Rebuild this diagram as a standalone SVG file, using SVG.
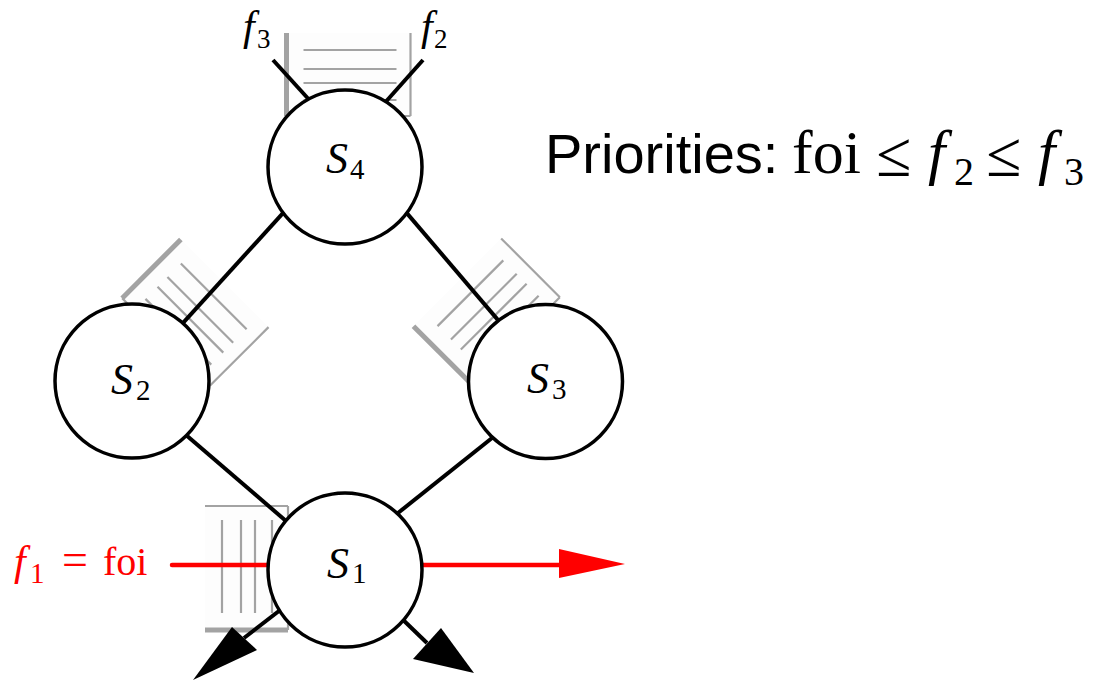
<svg xmlns="http://www.w3.org/2000/svg" width="1106" height="681" viewBox="0 0 1106 681">
<style>
.qt{stroke:#a3a3a3;stroke-width:2.2;fill:none}
.qk{stroke:#a3a3a3;stroke-width:5;fill:none}
.edge{stroke:#000;stroke-width:4;fill:none}
.node{fill:#fff;stroke:#000;stroke-width:3.5}
.m{font-family:"Liberation Serif",serif}
.it{font-style:italic}
</style>
<defs>
<g id="queue">
<rect x="-83" y="-62" width="83" height="124" fill="#fdfdfd"/>
<line class="qt" x1="-83" y1="-62" x2="0" y2="-62"/>
<line class="qt" x1="0" y1="-62" x2="0" y2="62"/>
<line class="qk" x1="-83" y1="62" x2="0" y2="62"/>
<line class="qt" x1="-66" y1="-48" x2="-66" y2="45"/>
<line class="qt" x1="-47" y1="-48" x2="-47" y2="45"/>
<line class="qt" x1="-33" y1="-48" x2="-33" y2="45"/>
<line class="qt" x1="-16" y1="-48" x2="-16" y2="45"/>
</g>
</defs>
<rect width="1106" height="681" fill="#fff"/>
<g id="queues">
<use href="#queue" transform="translate(288,568)"/>
<use href="#queue" transform="translate(348.5,116) rotate(90)"/>
<use href="#queue" transform="translate(166,342) rotate(135)"/>
<use href="#queue" transform="translate(516,341) rotate(45)"/>
</g>
<g id="connectors">
<line class="edge" x1="288.4" y1="207.1" x2="177.6" y2="328.9"/>
<line class="edge" x1="399.8" y1="204.9" x2="503.2" y2="326.1"/>
<line class="edge" x1="179.9" y1="429.8" x2="292.1" y2="526.2"/>
<line class="edge" x1="498.3" y1="433" x2="391.7" y2="518"/>
<line class="edge" x1="273" y1="60" x2="313" y2="104"/>
<line class="edge" x1="423" y1="60" x2="382" y2="106"/>
<line class="edge" x1="288" y1="604" x2="244" y2="638"/>
<polygon points="232,627 257,650 193,680" fill="#000"/>
<line class="edge" x1="398" y1="615" x2="427" y2="643"/>
<polygon points="441,628 413,659 474,673" fill="#000"/>
<line x1="172" y1="565" x2="275" y2="565" stroke="#f00" stroke-width="4.5" stroke-linecap="round"/>
<line x1="415" y1="565" x2="560" y2="565" stroke="#f00" stroke-width="4.5" stroke-linecap="round"/>
<polygon points="559,549 559,578 625,564" fill="#f00"/>
</g>
<g id="S4">
<circle class="node" cx="345" cy="167" r="77"/>
<text class="m it" x="326" y="173" font-size="44">S</text>
<text class="m" x="350" y="179" font-size="29">4</text>
</g>
<g id="S2">
<circle class="node" cx="132" cy="381" r="77"/>
<text class="m it" x="111" y="394" font-size="44">S</text>
<text class="m" x="136" y="400" font-size="29">2</text>
</g>
<g id="S3">
<circle class="node" cx="545.5" cy="381.5" r="77"/>
<text class="m it" x="527" y="393" font-size="44">S</text>
<text class="m" x="552" y="399" font-size="29">3</text>
</g>
<g id="S1">
<circle class="node" cx="345" cy="570" r="77"/>
<text class="m it" x="327" y="578" font-size="44">S</text>
<text class="m" x="352" y="583" font-size="29">1</text>
</g>
<g id="labels">
<text class="m it" x="243" y="40" font-size="42">f</text>
<text class="m" x="257" y="48" font-size="27">3</text>
<text class="m it" x="421" y="40" font-size="42">f</text>
<text class="m" x="434" y="48" font-size="27">2</text>
<g fill="#f00">
<text class="m it" x="14" y="575" font-size="42">f</text>
<text class="m" x="30" y="583" font-size="29">1</text>
<text class="m" x="62" y="575" font-size="46">=</text>
<text class="m" x="103" y="575" font-size="40">foi</text>
</g>
<text x="545" y="173" font-family="Liberation Sans, sans-serif" font-size="56">Priorities:</text>
<text class="m" x="792" y="173" font-size="62">foi</text>
<text class="m" x="876" y="176" font-size="64">≤</text>
<text class="m it" x="928" y="173" font-size="62">f</text>
<text class="m" x="954" y="185" font-size="40">2</text>
<text class="m" x="986" y="176" font-size="64">≤</text>
<text class="m it" x="1038" y="173" font-size="62">f</text>
<text class="m" x="1064" y="185" font-size="40">3</text>
</g>
</svg>
